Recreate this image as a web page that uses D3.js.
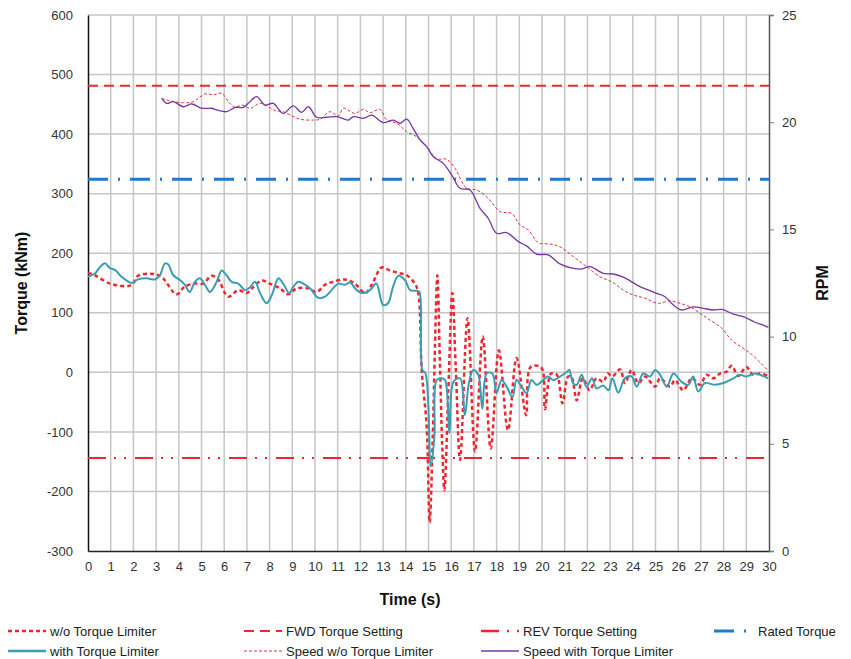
<!DOCTYPE html>
<html lang="en">
<head>
<meta charset="utf-8">
<title>Torque and RPM vs time</title>
<script src="https://d3js.org/d3.v7.min.js"></script>
<style>
  body { margin: 0; background: #fff; }
  text { font-family: "Liberation Sans", Arial, sans-serif; }
</style>
</head>
<body>
<div id="chart"></div>
<script>
// ---- data ----
var xTicks = d3.range(0, 31, 1);
var torqueTicks = [600, 500, 400, 300, 200, 100, 0, -100, -200, -300];
var rpmTicks = [0, 5, 10, 15, 20, 25];

var fwdSetting = 481;
var revSetting = -144;
var ratedTorque = 324;

// w/o torque limiter: torque (kNm)
var woTime = [0, 0.3, 0.97, 1.78, 2.0, 2.2, 2.95, 3.3, 3.9, 4.26, 4.7, 5.08, 5.43, 5.7, 6.18, 6.62, 6.99, 7.2, 7.65, 8.0,
  8.46, 8.82, 9.19, 9.7, 10.07, 10.44, 10.8, 11.3, 11.76, 12.2, 12.5, 12.94, 13.3, 13.67, 14.04, 14.4, 14.55, 14.7, 14.92, 15.05,
  15.2, 15.27, 15.39, 15.5, 15.6, 15.7, 15.87, 16.05, 16.2, 16.39, 16.72, 17.05, 17.39, 17.74, 18.1, 18.5, 18.88, 19.3, 19.5, 19.97,
  20.13, 20.4, 20.65, 20.9, 21.15, 21.3, 21.53, 21.8, 22.1, 22.4, 22.7, 22.9, 23.1, 23.44, 23.65, 23.95, 24.24, 24.54, 24.98, 25.2,
  25.64, 25.86, 26.22, 26.6, 26.96, 27.25, 27.55, 27.84, 28.13, 28.35, 28.65, 29.0, 29.3, 29.6, 29.97];
var woTorque = [167, 163, 149, 145, 150, 162, 165, 158, 131, 144, 149, 149, 162, 158, 127, 138, 133, 140, 154, 149,
  141, 131, 141, 141, 135, 147, 152, 156, 149, 133, 147, 176, 171, 167, 163, 149, 133, 4, -91, -252,
  -91, 21, 163, 21, -119, -198, -35, 133, 9, -147, 91, -133, 60, -128, 37, -97, 24, -72, 9, 8,
  -62, -2, -4, -52, -7, -8, -47, -10, -30, -10, -16, -2, -7, 5, -18, 4, -18, -7, -24, -10,
  -24, -13, -30, -10, -21, -4, -10, -2, 1, 11, -6, 9, -4, -2, -6];

// with torque limiter: torque (kNm)
var wTime = [0, 0.31, 0.53, 0.75, 0.97, 1.19, 1.41, 1.63, 1.92, 2.2, 2.58, 2.95, 3.17, 3.39, 3.54, 3.76, 4.05, 4.27, 4.48, 4.71,
  4.93, 5.15, 5.37, 5.67, 5.89, 6.1, 6.33, 6.62, 6.92, 7.14, 7.36, 7.58, 7.87, 8.1, 8.39, 8.6, 8.87, 9.05, 9.26, 9.48,
  9.78, 10.15, 10.44, 10.73, 11.02, 11.32, 11.54, 11.84, 12.13, 12.42, 12.7, 13.0, 13.22, 13.44, 13.67, 13.96, 14.19, 14.48, 14.6, 14.73,
  14.87, 15.1, 15.26, 15.36, 15.58, 15.73, 15.92, 16.1, 16.39, 16.6, 16.78, 16.97, 17.19, 17.37, 17.56, 17.81, 18.0, 18.22, 18.44, 18.7,
  18.88, 19.1, 19.32, 19.54, 19.76, 20.05, 20.27, 20.5, 20.8, 21.1, 21.2, 21.37, 21.53, 21.75, 21.96, 22.2, 22.4, 22.7, 22.93, 23.1,
  23.36, 23.65, 23.95, 24.17, 24.46, 24.76, 24.98, 25.2, 25.5, 25.79, 26.15, 26.44, 26.66, 26.88, 27.18, 27.62, 27.99, 28.43, 28.72, 29.0,
  29.38, 29.6, 29.97];
var wTorque = [161, 166, 177, 183, 175, 172, 163, 156, 150, 156, 158, 156, 163, 183, 181, 163, 155, 147, 135, 152,
  158, 147, 135, 152, 171, 163, 152, 149, 138, 143, 152, 133, 116, 130, 158, 149, 133, 144, 152, 149,
  141, 125, 127, 138, 149, 147, 151, 138, 133, 138, 149, 113, 116, 144, 162, 155, 138, 137, 135, 4,
  -2, -158, -108, -13, -10, -13, -102, -16, -10, -72, -18, 4, -4, -61, -2, -2, -35, -13, -24, -41,
  -13, -24, -35, -13, -21, -13, -7, -13, -7, 1, 4, -18, -21, -4, -24, -10, -27, -22, -30, -10,
  -34, -10, -7, -24, -2, -7, 4, -4, -24, -2, -16, -21, -7, -32, -18, -21, -18, -10, -4, -7,
  -2, -4, -10];

// speed w/o torque limiter (RPM)
var speedWoTime = [3.25, 3.61, 4.2, 4.64, 5.15, 5.52, 5.89, 6.18, 6.48, 6.77, 7.14, 7.58, 7.94, 8.24, 8.6, 8.9, 9.34, 9.93, 10.22, 10.66,
  11.03, 11.25, 11.76, 12.13, 12.42, 12.86, 13.16, 13.6, 14.04, 14.48, 14.92, 15.36, 15.8, 16.17, 16.68, 17.12, 17.63, 18.15, 18.66, 19.03,
  19.4, 19.84, 20.35, 20.79, 21.38, 21.97, 22.55, 23.07, 23.58, 24.02, 24.54, 25.12, 25.64, 26.08, 26.52, 26.96, 27.4, 27.92, 28.35, 28.8,
  29.2, 29.6, 29.97];
var speedWo = [21.11, 21.0, 20.91, 20.96, 21.32, 21.28, 21.35, 20.96, 20.69, 20.8, 20.65, 20.88, 20.72, 20.54, 20.49, 20.34, 20.14, 20.1, 20.14, 20.49,
  20.29, 20.65, 20.41, 20.6, 20.44, 20.6, 20.1, 19.95, 19.56, 19.32, 18.86, 18.3, 18.27, 17.85, 16.92, 16.84, 16.45, 15.83, 15.75, 15.21,
  14.97, 14.38, 14.32, 14.19, 13.73, 13.26, 12.79, 12.56, 12.17, 11.94, 11.79, 11.55, 11.67, 11.55, 11.39, 11.09, 10.77, 10.39, 9.84, 9.5,
  9.2, 8.8, 8.4];

// speed with torque limiter (RPM)
var speedWTime = [3.25, 3.47, 3.76, 4.2, 4.57, 5.01, 5.45, 5.67, 6.11, 6.48, 6.84, 7.06, 7.43, 7.8, 8.16, 8.6, 9.04, 9.41, 9.71, 10.07,
  10.52, 10.96, 11.47, 11.7, 12.13, 12.5, 13.0, 13.45, 13.74, 14.04, 14.33, 14.63, 14.92, 15.21, 15.65, 16.02, 16.39, 16.83, 17.27, 17.63,
  18.0, 18.44, 18.96, 19.32, 19.76, 20.28, 20.79, 21.67, 22.11, 22.7, 23.14, 23.58, 24.32, 25.05, 25.42, 25.79, 26.15, 26.67, 27.1, 27.55,
  27.92, 28.43, 28.87, 29.38, 29.75, 29.97];
var speedW = [21.11, 20.88, 20.96, 20.72, 20.85, 20.65, 20.65, 20.57, 20.49, 20.69, 20.69, 20.88, 21.19, 20.8, 20.88, 20.41, 20.76, 20.46, 20.72, 20.23,
  20.23, 20.26, 20.1, 20.26, 20.18, 20.33, 19.98, 20.1, 19.95, 20.14, 19.7, 19.17, 18.86, 18.39, 18.08, 17.54, 16.92, 16.84, 15.98, 15.52,
  14.82, 14.85, 14.43, 14.23, 13.85, 13.81, 13.39, 13.15, 13.26, 12.95, 12.92, 12.77, 12.33, 12.02, 11.86, 11.47, 11.24, 11.39, 11.32, 11.24,
  11.27, 11.05, 10.93, 10.67, 10.54, 10.43];

// ---- drawing ----
var w = 851, h = 659;
var padLeft = 88, padRight = 769, padTop = 15, padBottom = 551;

var red = "#f0262e", teal = "#3a9db4", blue = "#2379c9", purple = "#7436a4", speedRed = "#d9343a";

var svg = d3.select("#chart").append("svg")
  .attr("width", w).attr("height", h);

var xScale = d3.scaleLinear().domain([0, 30]).range([padLeft, padRight]);
var yScale = d3.scaleLinear().domain([-300, 600]).range([padBottom, padTop]);
var rScale = d3.scaleLinear().domain([0, 25]).range([padBottom, padTop]);

// grid
svg.append("g").selectAll("line").data(xTicks.slice(1, -1)).enter().append("line")
  .attr("x1", function(d) { return xScale(d); }).attr("x2", function(d) { return xScale(d); })
  .attr("y1", padTop).attr("y2", padBottom)
  .attr("stroke", "#c6c6c6").attr("stroke-width", 1.5);
svg.append("g").selectAll("line").data(torqueTicks.slice(0, -1)).enter().append("line")
  .attr("x1", padLeft).attr("x2", padRight)
  .attr("y1", function(d) { return yScale(d); }).attr("y2", function(d) { return yScale(d); })
  .attr("stroke", "#c6c6c6").attr("stroke-width", 1.5);

// axes (plain hyphen for negatives, as in the original)
function plain(d) { return String(d); }
var xAxis = d3.axisBottom(xScale).tickValues(xTicks).tickSize(0).tickPadding(11).tickFormat(plain);
var yAxis = d3.axisLeft(yScale).tickValues(torqueTicks).tickSize(0).tickPadding(15).tickFormat(plain);
var rAxis = d3.axisRight(rScale).tickValues(rpmTicks).tickSize(5).tickPadding(8).tickFormat(plain);

function styleAxis(g, col) {
  g.select(".domain").attr("stroke", col).attr("stroke-width", 1.5);
  g.selectAll(".tick line").attr("stroke", "#777");
  g.selectAll("text").attr("font-size", 13).attr("fill", "#333")
    .style("font-family", "'Liberation Sans', Arial, sans-serif");
}
svg.append("g").attr("transform", "translate(0," + padBottom + ")").call(xAxis).call(styleAxis, "#222");
svg.append("g").attr("transform", "translate(" + padLeft + ",0)").call(yAxis).call(styleAxis, "#111");
svg.append("g").attr("transform", "translate(" + padRight + ",0)").call(rAxis).call(styleAxis, "#555");

// axis titles
svg.append("text").attr("transform", "translate(27," + ((padTop + padBottom) / 2) + ") rotate(-90)")
  .attr("text-anchor", "middle").attr("font-size", 16).attr("font-weight", "bold").attr("fill", "#111")
  .text("Torque (kNm)");
svg.append("text").attr("transform", "translate(828," + ((padTop + padBottom) / 2) + ") rotate(-90)")
  .attr("text-anchor", "middle").attr("font-size", 16).attr("font-weight", "bold").attr("fill", "#111")
  .text("RPM");
svg.append("text").attr("x", 410).attr("y", 605)
  .attr("text-anchor", "middle").attr("font-size", 16).attr("font-weight", "bold").attr("fill", "#111")
  .text("Time (s)");

// series
var torqueLine = d3.line()
  .x(function(d) { return xScale(d[0]); })
  .y(function(d) { return yScale(d[1]); })
  .curve(d3.curveCatmullRom.alpha(0.5));
var rpmLine = d3.line()
  .x(function(d) { return xScale(d[0]); })
  .y(function(d) { return rScale(d[1]); })
  .curve(d3.curveCatmullRom.alpha(0.5));

function pairs(t, v) { return t.map(function(d, i) { return [d, v[i]]; }); }

var plot = svg.append("g");

plot.append("path").datum(pairs(woTime, woTorque))
  .attr("d", torqueLine).attr("fill", "none")
  .attr("stroke", red).attr("stroke-width", 2.5).attr("stroke-dasharray", "4,3");

plot.append("line")
  .attr("x1", padLeft).attr("x2", padRight).attr("y1", yScale(fwdSetting)).attr("y2", yScale(fwdSetting))
  .attr("stroke", red).attr("stroke-width", 2).attr("stroke-dasharray", "10,6");

plot.append("line")
  .attr("x1", padLeft).attr("x2", padRight).attr("y1", yScale(revSetting)).attr("y2", yScale(revSetting))
  .attr("stroke", red).attr("stroke-width", 2).attr("stroke-dasharray", "18,8,2,8,2,9");

plot.append("line")
  .attr("x1", padLeft).attr("x2", padRight).attr("y1", yScale(ratedTorque)).attr("y2", yScale(ratedTorque))
  .attr("stroke", blue).attr("stroke-width", 3).attr("stroke-dasharray", "20,10,2,10");

plot.append("path").datum(pairs(wTime, wTorque))
  .attr("d", torqueLine).attr("fill", "none")
  .attr("stroke", teal).attr("stroke-width", 2);

plot.append("path").datum(pairs(speedWoTime, speedWo))
  .attr("d", rpmLine).attr("fill", "none")
  .attr("stroke", speedRed).attr("stroke-width", 1).attr("stroke-dasharray", "3,2");

plot.append("path").datum(pairs(speedWTime, speedW))
  .attr("d", rpmLine).attr("fill", "none")
  .attr("stroke", purple).attr("stroke-width", 1.3);

// legend
var legendItems = [
  {label: "w/o Torque Limiter", x: 8, y: 631, col: red, sw: 2.5, dash: "4,3"},
  {label: "FWD Torque Setting", x: 244, y: 631, col: red, sw: 2, dash: "10,6"},
  {label: "REV Torque Setting", x: 481, y: 631, col: red, sw: 2.5, dash: "18,8,2,8"},
  {label: "Rated Torque", x: 714, y: 631, col: blue, sw: 3, dash: "20,10,2,10"},
  {label: "with Torque Limiter", x: 8, y: 651, col: teal, sw: 2.5, dash: null},
  {label: "Speed w/o Torque Limiter", x: 244, y: 651, col: speedRed, sw: 1, dash: "3,2"},
  {label: "Speed with Torque Limiter", x: 481, y: 651, col: purple, sw: 1.5, dash: null}
];
var lg = svg.append("g").selectAll("g").data(legendItems).enter().append("g");
lg.append("line")
  .attr("x1", function(d) { return d.x; }).attr("x2", function(d) { return d.x + 38; })
  .attr("y1", function(d) { return d.y; }).attr("y2", function(d) { return d.y; })
  .attr("stroke", function(d) { return d.col; })
  .attr("stroke-width", function(d) { return d.sw; })
  .attr("stroke-dasharray", function(d) { return d.dash; });
lg.append("text")
  .attr("x", function(d) { return d.x + (d.label === "Rated Torque" ? 44 : 42); })
  .attr("y", function(d) { return d.y + 5; })
  .attr("font-size", 13).attr("fill", "#222")
  .text(function(d) { return d.label; });
</script>
</body>
</html>
